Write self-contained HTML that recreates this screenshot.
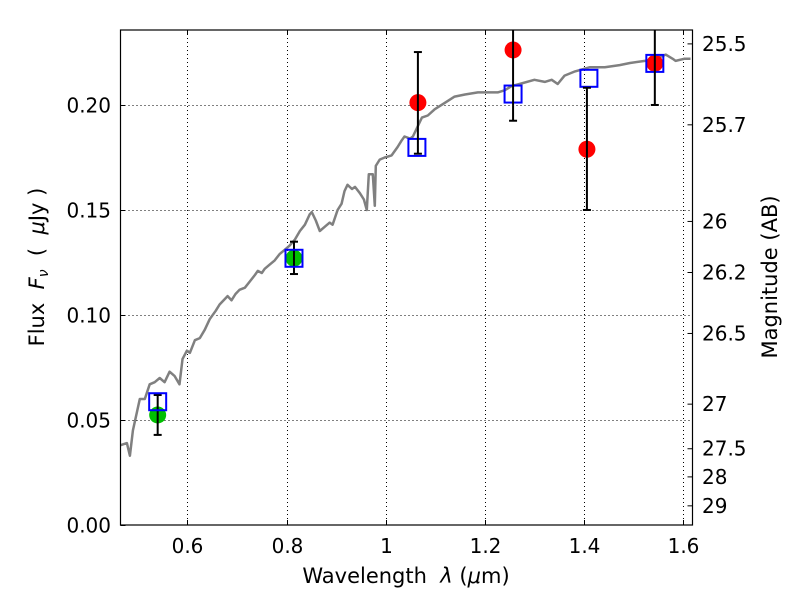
<!DOCTYPE html>
<html><head><meta charset="utf-8"><style>
body{margin:0;background:#fff}
text{font-family:"DejaVu Sans","Liberation Sans",sans-serif;fill:#000}
</style></head><body>
<svg id="chart" width="800" height="600" viewBox="0 0 800 600" xmlns="http://www.w3.org/2000/svg">
<rect width="800" height="600" fill="#fff"/>
<g id="grid"></g>
<g id="model"></g>
<g id="marks"></g>
<rect x="120.5" y="30" width="572" height="495" fill="none" stroke="#000" stroke-width="1.2"/>
<g id="axes"></g>
<text x="406" y="583" font-size="21" text-anchor="middle" xml:space="preserve">Wavelength  <tspan font-style="italic">λ</tspan> (<tspan font-style="italic">μ</tspan>m)</text>
<text transform="translate(44,267) rotate(-90)" font-size="21" text-anchor="middle" xml:space="preserve">Flux  <tspan font-style="italic">F<tspan font-size="14" dy="4">ν</tspan></tspan><tspan dy="-4">  (  </tspan><tspan font-style="italic">μ</tspan>Jy )</text>
<text transform="translate(777,277) rotate(-90)" font-size="21" text-anchor="middle">Magnitude (AB)</text>
</svg>
<script>
const xTicks=[0.6,0.8,1,1.2,1.4,1.6];
const xTickLabels=["0.6","0.8","1","1.2","1.4","1.6"];
const yTicks=[0,0.05,0.10,0.15,0.20];
const yTickLabels=["0.00","0.05","0.10","0.15","0.20"];
const magTicks=[25.5,25.7,26,26.2,26.5,27,27.5,28,29];
const magTickLabels=["25.5","25.7","26","26.2","26.5","27","27.5","28","29"];
const modelLam=[0.465,0.478,0.484,0.490,0.504,0.514,0.524,0.534,0.544,0.554,0.564,0.574,0.584,0.590,0.599,0.605,0.615,0.625,0.635,0.645,0.657,0.665,0.681,0.689,0.697,0.705,0.716,0.726,0.736,0.742,0.750,0.756,0.766,0.776,0.786,0.796,0.806,0.817,0.827,0.837,0.847,0.851,0.859,0.867,0.877,0.887,0.893,0.903,0.911,0.917,0.923,0.932,0.938,0.948,0.956,0.962,0.966,0.974,0.978,0.980,0.988,0.998,1.012,1.024,1.032,1.038,1.049,1.055,1.065,1.073,1.085,1.099,1.119,1.139,1.160,1.186,1.226,1.240,1.254,1.270,1.300,1.321,1.335,1.347,1.361,1.382,1.412,1.442,1.472,1.493,1.523,1.555,1.565,1.579,1.585,1.602,1.615];
const modelFlux=[0.038,0.039,0.033,0.045,0.060,0.060,0.067,0.068,0.070,0.068,0.073,0.071,0.067,0.079,0.083,0.082,0.088,0.089,0.093,0.098,0.102,0.105,0.109,0.107,0.110,0.112,0.113,0.116,0.119,0.121,0.120,0.122,0.124,0.126,0.129,0.131,0.133,0.136,0.140,0.143,0.148,0.149,0.145,0.140,0.142,0.144,0.143,0.150,0.153,0.159,0.162,0.160,0.161,0.158,0.155,0.150,0.167,0.167,0.152,0.171,0.174,0.175,0.176,0.180,0.183,0.185,0.184,0.185,0.190,0.194,0.195,0.198,0.201,0.204,0.205,0.206,0.206,0.207,0.209,0.210,0.212,0.211,0.212,0.210,0.214,0.216,0.218,0.218,0.219,0.220,0.221,0.223,0.224,0.222,0.221,0.222,0.222];
const modelBandLam=[0.54,0.815,1.063,1.257,1.41,1.543];
const modelBandFlux=[0.0587,0.127,0.1798,0.2052,0.2127,0.2198];
const greenLam=[0.54,0.815];
const greenFlux=[0.0524,0.127];
const greenLo=[0.0429,0.1195];
const greenHi=[0.0619,0.1349];
const redLam=[1.065,1.257,1.406,1.543];
const redFlux=[0.2011,0.2262,0.1789,0.2198];
const redLo=[0.1768,0.1925,0.150,0.200];
const redHi=[0.2252,0.26,0.2082,0.26];

const X0=120.5,X1=692.5,Y0=525,Y1=30,xmin=0.465,xmax=1.619,ymin=0,ymax=0.2357;
const sx=v=>X0+(v-xmin)/(xmax-xmin)*(X1-X0);
const sy=v=>Y0-(v-ymin)/(ymax-ymin)*(Y0-Y1);
const NS="http://www.w3.org/2000/svg";
function mk(tag,attrs,parent){const e=document.createElementNS(NS,tag);for(const k in attrs)e.setAttribute(k,attrs[k]);document.getElementById(parent).appendChild(e);return e;}
xTicks.forEach((t,i)=>{const x=Math.round(sx(t))+0.5;
 let g=mk('line',{x1:x,x2:x,y1:Y1,y2:Y0,stroke:'#000','stroke-width':1,'stroke-dasharray':'1,3'},'grid');
 
 
 let tk=mk('line',{x1:x,x2:x,y1:Y0,y2:Y0-5,stroke:'#000'},'axes');
 
 
 let tk2=mk('line',{x1:x,x2:x,y1:Y1,y2:Y1+5,stroke:'#000'},'axes');
 
 
 let l=mk('text',{x:x,y:553,'font-size':20,'text-anchor':'middle'},'axes');l.textContent=xTickLabels[i];
 
 });
yTicks.forEach((t,i)=>{const y=Math.round(sy(t))+0.5;
 if(t>0){let g=mk('line',{x1:X0,x2:X1,y1:y,y2:y,stroke:'#000','stroke-width':1,'stroke-dasharray':'1,3'},'grid');
 
 }
 let tk=mk('line',{x1:X0,x2:X0+5,y1:y,y2:y,stroke:'#000'},'axes');
 
 
 let l=mk('text',{x:111,y:y+7,'font-size':20,'text-anchor':'end'},'axes');l.textContent=yTickLabels[i];
 
 });
magTicks.forEach((m,i)=>{const y=sy(Math.pow(10,(23.9-m)/2.5));
 let tk=mk('line',{x1:X1-5,x2:X1,y1:y,y2:y,stroke:'#000'},'axes');
 
 
 let l=mk('text',{x:702,y:y+7,'font-size':20},'axes');l.textContent=magTickLabels[i];
 
 });
let pts=modelLam.map((v,i)=>sx(v).toFixed(1)+','+sy(modelFlux[i]).toFixed(1)).join(' ');
let pl=mk('polyline',{points:pts,fill:'none',stroke:'#808080','stroke-width':2.5,'stroke-linejoin':'round'},'model');


function err(x,lo,hi){
 let a=mk('line',{x1:x,x2:x,y1:sy(lo),y2:sy(hi),stroke:'#000','stroke-width':2},'marks');
 
 
 [lo,hi].forEach(v=>{if(v<ymax){let c=mk('line',{x1:x-4,x2:x+4,y1:sy(v),y2:sy(v),stroke:'#000','stroke-width':2},'marks');
 
 }});}
greenLam.forEach((v,i)=>{const x=sx(v);
 let c=mk('circle',{cx:x,cy:sy(greenFlux[i]),r:8.5,fill:'#00bf00'},'marks');
 
 
 err(x,greenLo[i],greenHi[i]);});
redLam.forEach((v,i)=>{const x=sx(v);
 let c=mk('circle',{cx:x,cy:sy(redFlux[i]),r:8.5,fill:'#ff0000'},'marks');
 
 });
modelBandLam.forEach((v,i)=>{
 let r=mk('rect',{x:sx(v)-8.5,y:sy(modelBandFlux[i])-8.5,width:17,height:17,fill:'none',stroke:'#0000ff','stroke-width':2},'marks');
 
 });
redLam.forEach((v,i)=>err(sx(v),redLo[i],Math.min(redHi[i],ymax)));
</script>
</body></html>
